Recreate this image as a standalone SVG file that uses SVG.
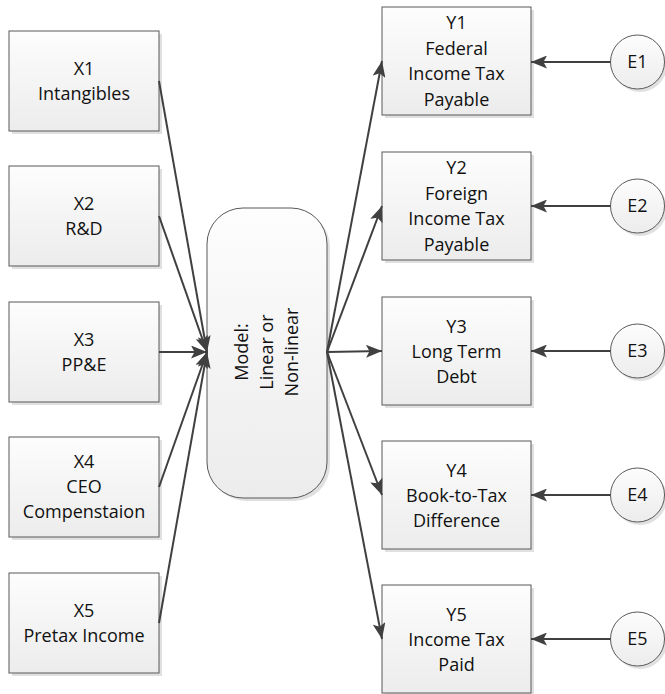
<svg xmlns="http://www.w3.org/2000/svg" width="665" height="694" viewBox="0 0 665 694">
<style>
  .box { fill: url(#g); stroke: #595959; stroke-width: 1; }
  .sh { fill: #000; opacity: 0.12; }
  .t { font-family: "Open Sans", "Liberation Sans", sans-serif; font-size: 18px; fill: #111; text-anchor: middle; }
  .c { stroke: #404040; stroke-width: 2; fill: none; marker-end: url(#ah); }
</style>
<defs>
  <linearGradient id="g" x1="0" y1="0" x2="0" y2="1">
    <stop offset="0" stop-color="#fdfdfd"/>
    <stop offset="1" stop-color="#ececec"/>
  </linearGradient>
  <marker id="ah" viewBox="0 0 16 13" refX="16" refY="6.5" markerWidth="16" markerHeight="13" markerUnits="userSpaceOnUse" orient="auto">
    <path d="M0,0 L16,6.5 L0,13 L3.5,6.5 z" fill="#404040"/>
  </marker>
</defs>
<rect width="665" height="694" fill="#fff"/>

<g id="X1"><rect class="sh" x="12" y="34" width="150" height="100"/><rect class="box" x="9" y="31" width="150" height="100"/>
<text class="t" x="84" y="75">X1</text><text class="t" x="84" y="100">Intangibles</text></g>
<g id="X2"><rect class="sh" x="12" y="169" width="150" height="100"/><rect class="box" x="9" y="166" width="150" height="100"/>
<text class="t" x="84" y="210">X2</text><text class="t" x="84" y="235">R&amp;D</text></g>
<g id="X3"><rect class="sh" x="12" y="305" width="150" height="100"/><rect class="box" x="9" y="302" width="150" height="100"/>
<text class="t" x="84" y="346">X3</text><text class="t" x="84" y="371">PP&amp;E</text></g>
<g id="X4"><rect class="sh" x="12" y="440" width="150" height="100"/><rect class="box" x="9" y="437" width="150" height="100"/>
<text class="t" x="84" y="468">X4</text><text class="t" x="84" y="493">CEO</text><text class="t" x="84" y="518">Compenstaion</text></g>
<g id="X5"><rect class="sh" x="12" y="576" width="150" height="100"/><rect class="box" x="9" y="573" width="150" height="100"/>
<text class="t" x="84" y="617">X5</text><text class="t" x="84" y="642">Pretax Income</text></g>

<g id="Model"><rect class="sh" x="210" y="211" width="120" height="290" rx="36" ry="36"/><rect class="box" x="207" y="208" width="120" height="290" rx="36" ry="36"/>
<text class="t" transform="translate(267,352) rotate(-90)"><tspan x="0" y="-19">Model:</tspan><tspan x="0" y="6">Linear or</tspan><tspan x="0" y="31">Non-linear</tspan></text></g>

<g id="Y1"><rect class="sh" x="385" y="10" width="149" height="108"/><rect class="box" x="382" y="7" width="149" height="108"/>
<text class="t" x="456.5" y="29">Y1</text><text class="t" x="456.5" y="55">Federal</text><text class="t" x="456.5" y="80">Income Tax</text><text class="t" x="456.5" y="106">Payable</text></g>
<g id="Y2"><rect class="sh" x="385" y="155" width="149" height="108"/><rect class="box" x="382" y="152" width="149" height="108"/>
<text class="t" x="456.5" y="174">Y2</text><text class="t" x="456.5" y="200">Foreign</text><text class="t" x="456.5" y="225">Income Tax</text><text class="t" x="456.5" y="251">Payable</text></g>
<g id="Y3"><rect class="sh" x="385" y="300" width="149" height="108"/><rect class="box" x="382" y="297" width="149" height="108"/>
<text class="t" x="456.5" y="333">Y3</text><text class="t" x="456.5" y="358">Long Term</text><text class="t" x="456.5" y="383">Debt</text></g>
<g id="Y4"><rect class="sh" x="385" y="444" width="149" height="108"/><rect class="box" x="382" y="441" width="149" height="108"/>
<text class="t" x="456.5" y="477">Y4</text><text class="t" x="456.5" y="502">Book-to-Tax</text><text class="t" x="456.5" y="527">Difference</text></g>
<g id="Y5"><rect class="sh" x="385" y="588" width="149" height="108"/><rect class="box" x="382" y="585" width="149" height="108"/>
<text class="t" x="456.5" y="621">Y5</text><text class="t" x="456.5" y="646">Income Tax</text><text class="t" x="456.5" y="671">Paid</text></g>

<g id="E1"><circle class="sh" cx="640" cy="65" r="27"/><circle class="box" cx="637.5" cy="62" r="27"/><text class="t" x="637.5" y="68">E1</text></g>
<g id="E2"><circle class="sh" cx="640" cy="209" r="27"/><circle class="box" cx="637.5" cy="206" r="27"/><text class="t" x="637.5" y="212">E2</text></g>
<g id="E3"><circle class="sh" cx="640" cy="354" r="27"/><circle class="box" cx="637.5" cy="351" r="27"/><text class="t" x="637.5" y="357">E3</text></g>
<g id="E4"><circle class="sh" cx="640" cy="498" r="27"/><circle class="box" cx="637.5" cy="495" r="27"/><text class="t" x="637.5" y="501">E4</text></g>
<g id="E5"><circle class="sh" cx="640" cy="642" r="27"/><circle class="box" cx="637.5" cy="639" r="27"/><text class="t" x="637.5" y="645">E5</text></g>

<g id="connectors">
  <line class="c" x1="159" y1="81" x2="207" y2="352"/>
  <line class="c" x1="159" y1="216" x2="207" y2="352"/>
  <line class="c" x1="159" y1="352" x2="207" y2="352"/>
  <line class="c" x1="159" y1="487" x2="207" y2="352"/>
  <line class="c" x1="159" y1="623" x2="207" y2="352"/>
  <line class="c" x1="327" y1="352" x2="382" y2="61"/>
  <line class="c" x1="327" y1="352" x2="382" y2="206"/>
  <line class="c" x1="327" y1="352" x2="382" y2="351"/>
  <line class="c" x1="327" y1="352" x2="382" y2="495"/>
  <line class="c" x1="327" y1="352" x2="382" y2="639"/>
  <line class="c" x1="610.5" y1="62" x2="531" y2="62"/>
  <line class="c" x1="610.5" y1="206" x2="531" y2="206"/>
  <line class="c" x1="610.5" y1="351" x2="531" y2="351"/>
  <line class="c" x1="610.5" y1="495" x2="531" y2="495"/>
  <line class="c" x1="610.5" y1="639" x2="531" y2="639"/>
</g>
</svg>
